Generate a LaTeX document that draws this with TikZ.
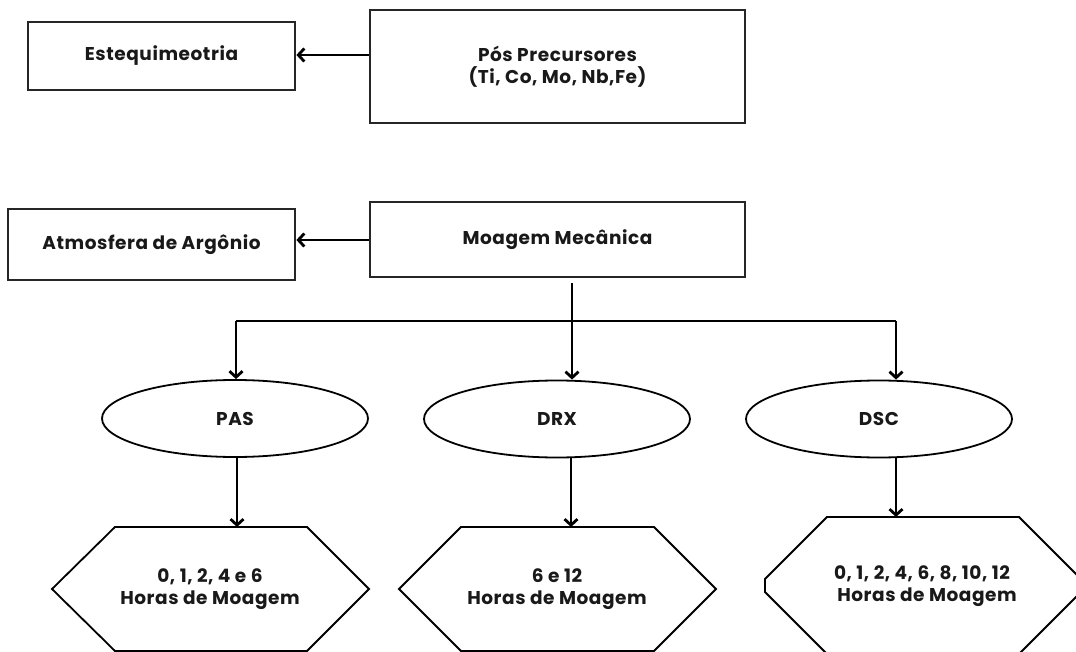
\documentclass[tikz,border=0pt]{standalone}
\usepackage{fontspec}
\setmainfont{Poppins}[LetterSpace=3]
\usetikzlibrary{arrows.meta,shapes.geometric}
\begin{document}
\begin{tikzpicture}[x=1pt,y=-1pt,
  txt/.style={font=\bfseries\fontsize{18.5}{21.5}\selectfont, text=black!90},
  box/.style={draw=black!85, line width=2.8pt, rectangle, inner sep=0pt, txt, align=center},
  oval/.style={draw=black, line width=1.8pt, ellipse, inner sep=0pt, minimum width=266pt, minimum height=77pt, txt},
  hexline/.style={draw=black, line width=1.8pt, line join=miter},
  arr/.style={line width=2.6pt, draw=black, -{Straight Barb[length=6pt,width=13pt,line width=2.8pt]}},
  ln/.style={line width=2.6pt, draw=black}
]
\useasboundingbox (0,0) rectangle (1076,652);
\clip (0,0) rectangle (1076,652);

% top row
\node[box, minimum width=267pt, minimum height=68pt] (est) at (161.5,56) {Estequimeotria};
\node[box, minimum width=375pt, minimum height=113pt] (pos) at (557.5,66.5) {Pós Precursores\\(Ti, Co, Mo, Nb,Fe)};
\draw[arr] (pos.west |- 0,55) -- (est.east |- 0,55);

% second row
\node[box, minimum width=287pt, minimum height=71pt] (atm) at (151.5,244.5) {Atmosfera de Argônio};
\node[box, minimum width=375pt, minimum height=75pt] (moa) at (557.5,239.5) {Moagem Mecânica};
\draw[arr] (moa.west |- 0,240) -- (atm.east |- 0,240);

% ellipses
\node[oval] (pas) at (235,418.5) {PAS};
\node[oval] (drx) at (557,419) {DRX};
\node[oval] (dsc) at (879,419) {DSC};

% splitter
\coordinate (mstart) at (572,283);
\coordinate (split) at (572,321);
\coordinate (pasin) at (236,321);
\coordinate (dscin) at (896,321);
\draw[ln] (mstart) -- (split);
\draw[ln] (pasin) -- (dscin);
\draw[arr] (pasin) -- (pasin |- pas.north);
\draw[arr] (split) -- (split |- drx.north);
\draw[arr] (dscin) -- (dscin |- dsc.north);

% hexagons
\node[txt, align=center] (h1) at (210,589) {0, 1, 2, 4 e 6\\Horas de Moagem};
\draw[hexline] (115,527) -- (307,527) -- (369,589) -- (307,651) -- (115,651) -- (52,589) -- cycle;
\node[txt, align=center] (h2) at (557,589) {6 e 12\\Horas de Moagem};
\draw[hexline] (461,527) -- (654,527) -- (716,589) -- (654,651) -- (461,651) -- (399,589) -- cycle;
\node[txt, align=center] (h3) at (922,586) {0, 1, 2, 4, 6, 8, 10, 12\\\hspace*{10pt}Horas de Moagem};
\draw[hexline] (827,517) -- (1019,517) -- (1081,579) -- (1081,592) -- (1019,654) -- (827,654) -- (765,592) -- (765,579) -- cycle;

\coordinate (h1t) at (237,527);
\coordinate (h2t) at (571,527);
\coordinate (h3t) at (896,517);
\draw[arr] (pas.south -| h1t) -- (h1t);
\draw[arr] (drx.south -| h2t) -- (h2t);
\draw[arr] (dsc.south -| h3t) -- (h3t);
\end{tikzpicture}
\end{document}
